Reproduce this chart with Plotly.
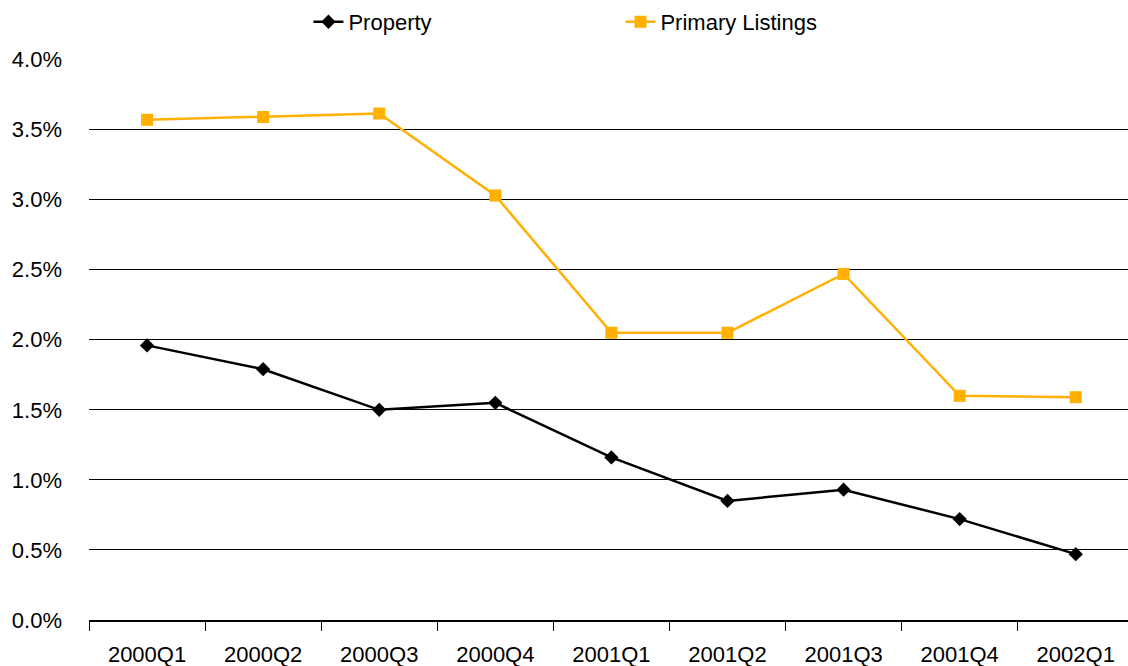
import plotly.graph_objects as go

quarters = ["2000Q1", "2000Q2", "2000Q3", "2000Q4", "2001Q1", "2001Q2", "2001Q3", "2001Q4", "2002Q1"]
property_pct = [1.96, 1.79, 1.50, 1.55, 1.16, 0.85, 0.93, 0.72, 0.47]
primary_pct = [3.57, 3.59, 3.615, 3.03, 2.05, 2.05, 2.47, 1.60, 1.59]
y_ticks = [0, 0.5, 1.0, 1.5, 2.0, 2.5, 3.0, 3.5, 4.0]
y_tick_text = ["0.0%", "0.5%", "1.0%", "1.5%", "2.0%", "2.5%", "3.0%", "3.5%", "4.0%"]

fig = go.Figure()
fig.add_trace(go.Scatter(
    x=quarters, y=property_pct, name="Property", mode="lines+markers",
    line=dict(color="black", width=2.5),
    marker=dict(symbol="diamond", size=11, color="black"),
))
fig.add_trace(go.Scatter(
    x=quarters, y=primary_pct, name="Primary Listings", mode="lines+markers",
    line=dict(color="#FFB000", width=2.5),
    marker=dict(symbol="square", size=12, color="#FFB000"),
))

fig.update_layout(
    width=1128, height=666,
    margin=dict(l=89, r=0, t=59, b=46, autoexpand=False),
    plot_bgcolor="white", paper_bgcolor="white",
    font=dict(family="Liberation Sans, Arial, sans-serif", size=22, color="black"),
    showlegend=True,
    legend=dict(orientation="h", x=0.5115, xanchor="center", y=1.066, yanchor="middle",
                font=dict(size=22), tracegroupgap=0, entrywidth=267),
    xaxis=dict(
        type="category", range=[-0.5, 8.45],
        showgrid=False, showline=True, linecolor="black", linewidth=1.5,
        ticks="outside", tickson="boundaries", ticklen=9, tickcolor="black", tickwidth=1,
        tickfont=dict(size=22), ticklabelstandoff=14,
    ),
    yaxis=dict(
        range=[0, 4.004], tickvals=y_ticks, ticktext=y_tick_text,
        showgrid=True, gridcolor="black", gridwidth=1,
        zeroline=False, showline=False, ticks="", ticklabelstandoff=26,
        tickfont=dict(size=22),
    ),
)
fig.write_html(
    "out.html",
    config={"displayModeBar": False},
    post_script="document.body.style.margin='0';document.body.style.overflow='hidden';",
)
